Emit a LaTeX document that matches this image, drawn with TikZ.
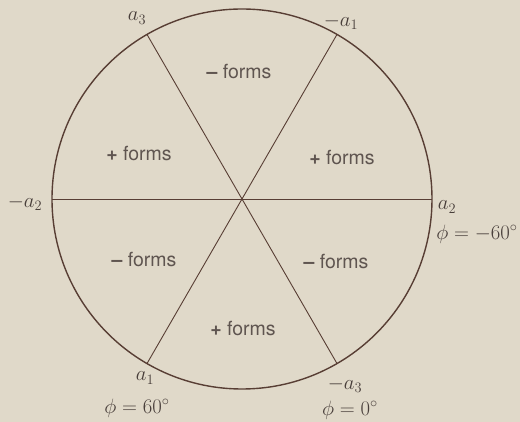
\documentclass[tikz,border=0pt]{standalone}
\usepackage{fontspec}
\setsansfont{TeX Gyre Heros}
\usetikzlibrary{calc,positioning}
\definecolor{paper}{RGB}{224,217,201}
\definecolor{ink}{RGB}{88,62,52}
\definecolor{lettering}{RGB}{72,62,58}
\tikzset{
    myrim/.style={draw=ink,line width=1.4pt},
    myaxis/.style={draw=ink,line width=0.9pt},
    mylab/.style={font=\fontsize{20}{24}\selectfont,text=lettering,inner sep=0pt},
    myform/.style={font=\sffamily\fontsize{19.5}{23}\selectfont,text=lettering!85!paper,inner sep=0pt}
}
\begin{document}
\begin{tikzpicture}[x=1pt,y=1pt]
  \fill[paper] (-242,-223) rectangle (278,199);
  \useasboundingbox (-242,-223) rectangle (278,199);

  \coordinate (O) at (0,0);
  \draw[myrim] (O) circle (190);

  % ends of the three diameters
  \foreach \a in {0,60,120,180,240,300}{
    \coordinate (P\a) at (\a:190);
  }
  \draw[myaxis] (P180)--(P0);
  \draw[myaxis] (P120)--(P300);
  \draw[myaxis] (P60)--(P240);

  % labels at the rim
  \node[mylab] (la3)  at (-105,181) {$a_3$};
  \node[mylab] (lma1) at (99,177)   {$-a_1$};
  \node[mylab] (lma2) at (-217,-4)  {$-a_2$};
  \node[mylab] (la2)  at (205,-8)   {$a_2$};
  \node[mylab] (la1)  at (-97,-179) {$a_1$};
  \node[mylab] (lma3) at (103,-186) {$-a_3$};
  \node[mylab] (phiA) at (235,-35)  {$\phi=-60^\circ$};
  \node[mylab] (phiB) at (-105,-209) {$\phi=60^\circ$};
  \node[mylab] (phiC) at (108,-211) {$\phi=0^\circ$};

  % sectors
  \foreach \n/\x/\y/\s in {fT/-3/127/{\textbf{--} forms},
                           fUL/-103/45/{\textbf{+} forms},
                           fUR/100/41/{\textbf{+} forms},
                           fLL/-98/-61/{\textbf{--} forms},
                           fLR/94/-63/{\textbf{--} forms},
                           fB/1/-130/{\textbf{+} forms}}{
    \node[myform] (\n) at (\x,\y) {\s};
  }
\end{tikzpicture}
\end{document}
